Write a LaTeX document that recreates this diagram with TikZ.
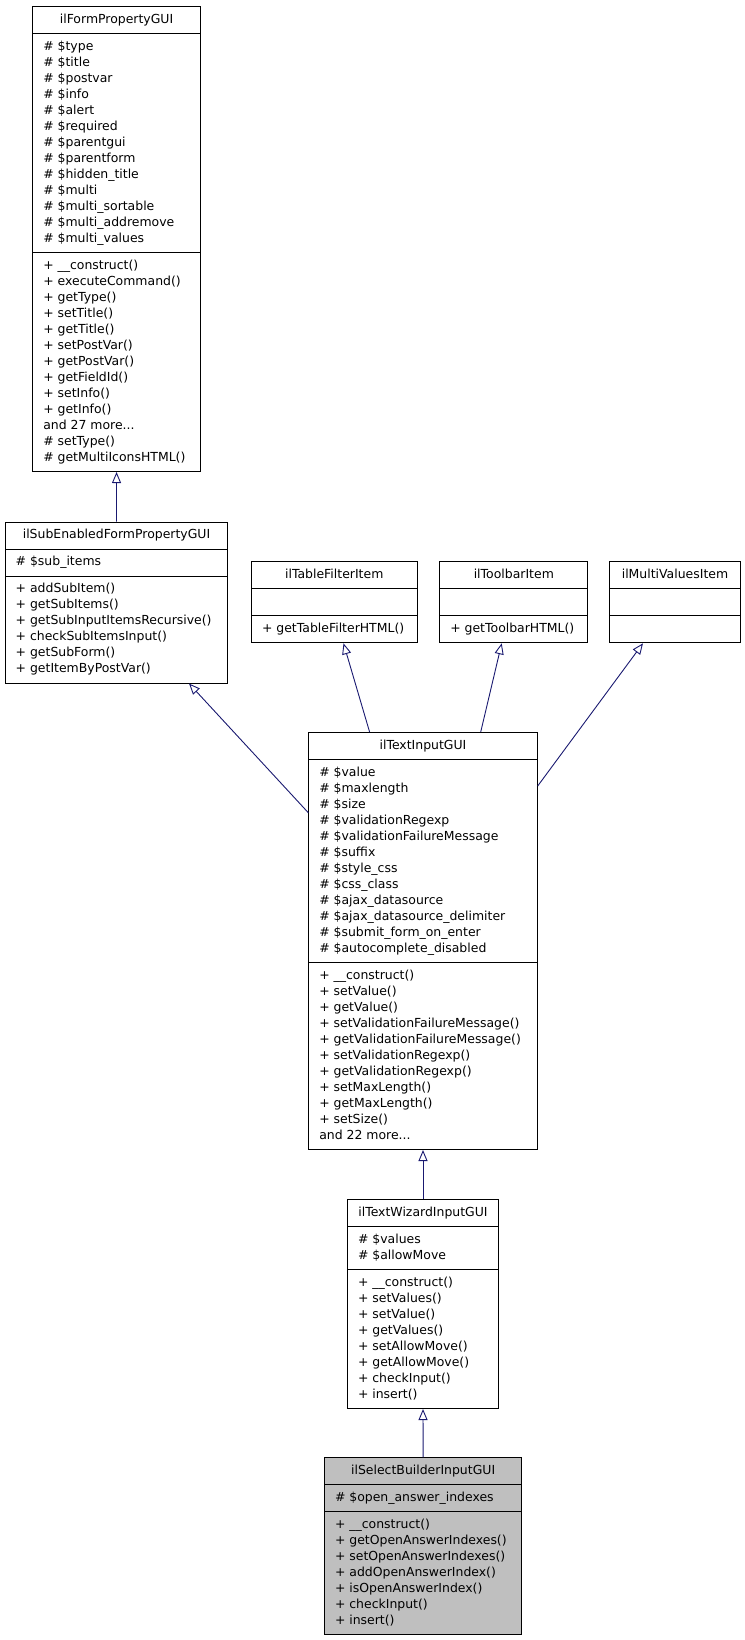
\documentclass[tikz,border=0pt]{standalone}
\usepackage{fontspec}
\newfontfamily\dejavu{DejaVu Sans}
\definecolor{azulnoche}{RGB}{25,25,112}
\definecolor{gris}{RGB}{191,191,191}
\usetikzlibrary{arrows.meta,shapes.multipart}
\newcommand{\clase}{\dejavu\fontsize{12.45}{16}\selectfont}
\newcommand{\miembros}[1]{\begin{tabular}{@{}l@{}}#1\end{tabular}}

\begin{document}
\begin{tikzpicture}[x=1pt,y=-1pt,
    caja/.style={rectangle split,rectangle split parts=3,draw=black,line width=1pt,
      anchor=north west,font=\clase,inner xsep=10.5pt,inner ysep=5pt,
      rectangle split part align={center,left,left}},
    hereda/.style={draw=azulnoche,line width=0.9pt,
      -{Triangle[open,length=11pt,width=9pt]}}]
  \useasboundingbox (0,0) rectangle (744,1640);

  \node[caja,minimum width=167.5pt] (fp) at (32.3,6)
    {\miembros{ilFormPropertyGUI}
     \nodepart{second}\miembros{\# \$type\\ \# \$title\\ \# \$postvar\\ \# \$info\\
       \# \$alert\\ \# \$required\\ \# \$parentgui\\ \# \$parentform\\
       \# \$hidden\_title\\ \# \$multi\\ \# \$multi\_sortable\\
       \# \$multi\_addremove\\ \# \$multi\_values}
     \nodepart{third}\miembros{+ \_\_construct()\\ + executeCommand()\\ + getType()\\
       + setTitle()\\ + getTitle()\\ + setPostVar()\\ + getPostVar()\\
       + getFieldId()\\ + setInfo()\\ + getInfo()\\ and 27 more...\\
       \# setType()\\ \# getMultiIconsHTML()}};

  \node[caja,minimum width=222.6pt] (se) at (4.7,521.5)
    {\miembros{ilSubEnabledFormPropertyGUI}
     \nodepart{second}\miembros{\# \$sub\_items}
     \nodepart{third}\miembros{+ addSubItem()\\ + getSubItems()\\
       + getSubInputItemsRecursive()\\ + checkSubItemsInput()\\
       + getSubForm()\\ + getItemByPostVar()}};

  \node[caja,minimum width=165.5pt] (tf) at (251,561.3)
    {\miembros{ilTableFilterItem}
     \nodepart{second}\miembros{\strut}
     \nodepart{third}\miembros{+ getTableFilterHTML()}};

  \node[caja,minimum width=148pt] (tb) at (439.3,561.3)
    {\miembros{ilToolbarItem}
     \nodepart{second}\miembros{\strut}
     \nodepart{third}\miembros{+ getToolbarHTML()}};

  \node[caja,minimum width=131pt] (mv) at (609,561.3)
    {\miembros{ilMultiValuesItem}
     \nodepart{second}\miembros{\strut}
     \nodepart{third}\miembros{\strut}};

  \node[caja,minimum width=228.4pt] (ti) at (308.3,732)
    {\miembros{ilTextInputGUI}
     \nodepart{second}\miembros{\# \$value\\ \# \$maxlength\\ \# \$size\\
       \# \$validationRegexp\\ \# \$validationFailureMessage\\ \# \$suffix\\
       \# \$style\_css\\ \# \$css\_class\\ \# \$ajax\_datasource\\
       \# \$ajax\_datasource\_delimiter\\ \# \$submit\_form\_on\_enter\\
       \# \$autocomplete\_disabled}
     \nodepart{third}\miembros{+ \_\_construct()\\ + setValue()\\ + getValue()\\
       + setValidationFailureMessage()\\ + getValidationFailureMessage()\\
       + setValidationRegexp()\\ + getValidationRegexp()\\ + setMaxLength()\\
       + getMaxLength()\\ + setSize()\\ and 22 more...}};

  \node[caja,minimum width=151pt] (tw) at (347,1199)
    {\miembros{ilTextWizardInputGUI}
     \nodepart{second}\miembros{\# \$values\\ \# \$allowMove}
     \nodepart{third}\miembros{+ \_\_construct()\\ + setValues()\\ + setValue()\\
       + getValues()\\ + setAllowMove()\\ + getAllowMove()\\ + checkInput()\\
       + insert()}};

  \node[caja,fill=gris,minimum width=197.3pt] (sb) at (324,1457.3)
    {\miembros{ilSelectBuilderInputGUI}
     \nodepart{second}\miembros{\# \$open\_answer\_indexes}
     \nodepart{third}\miembros{+ \_\_construct()\\ + getOpenAnswerIndexes()\\
       + setOpenAnswerIndexes()\\ + addOpenAnswerIndex()\\
       + isOpenAnswerIndex()\\ + checkInput()\\ + insert()}};

  \draw[hereda] (se.north) -- (fp.south);
  \draw[hereda] ([yshift=-80.7pt]ti.north west) -- ([xshift=184.3pt]se.south west);
  \draw[hereda] ([xshift=61.3pt]ti.north west) -- ([xshift=92.5pt]tf.south west);
  \draw[hereda] ([xshift=172.4pt]ti.north west) -- ([xshift=62.4pt]tb.south west);
  \draw[hereda] ([yshift=-54pt]ti.north east) -- ([xshift=34pt]mv.south west);
  \draw[hereda] (tw.north) -- (ti.south);
  \draw[hereda] (sb.north) -- (tw.south);
\end{tikzpicture}
\end{document}
